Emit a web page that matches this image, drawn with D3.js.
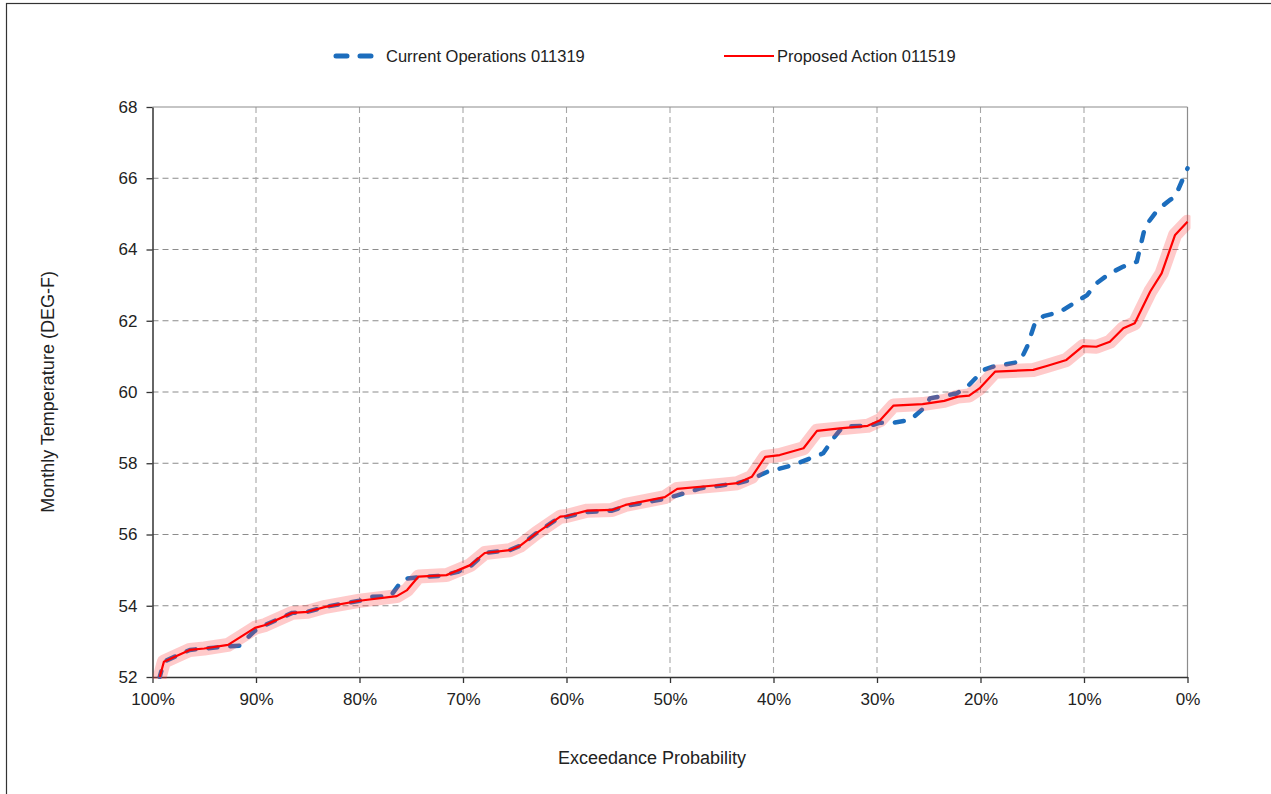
<!DOCTYPE html>
<html><head><meta charset="utf-8">
<script src="https://cdn.jsdelivr.net/npm/d3@7"></script>
<style>body{margin:0;background:#fff;} svg{display:block;font-family:"Liberation Sans",Arial,sans-serif;}</style>
</head><body><svg id="c" width="1271" height="794"></svg>
<script>
// Exceedance probability (%) and monthly temperature (DEG-F)
const seriesNames = ["Current Operations 011319", "Proposed Action 011519"];
const currentOps = [
 [99.3,52.0],[98.9,52.43],[96.4,52.76],[95,52.8],[93,52.85],[91.6,52.88],[90.1,53.3],[89.1,53.46],
 [86.5,53.8],[85,53.83],[83.3,53.97],[80,54.14],[78.8,54.25],[77,54.27],[75.8,54.75],[74.3,54.8],
 [72.2,54.84],[70.5,54.95],[69.3,55.1],[67.9,55.48],[65.5,55.56],[64.5,55.68],[62.9,56.04],[60.6,56.5],
 [60,56.5],[58,56.63],[55.6,56.67],[54.3,56.8],[50.5,57.0],[49.3,57.1],[47,57.3],[45.2,57.37],
 [43.5,57.44],[42.3,57.53],[40.6,57.76],[38.1,57.95],[35.2,58.28],[34.1,58.74],[33.3,59.03],[30.7,59.05],
 [29.7,59.14],[28.4,59.14],[26.8,59.21],[25.2,59.62],[24.9,59.82],[22.3,59.96],[21.3,60.14],[19.7,60.62],
 [18.8,60.71],[16.2,60.85],[15.5,61.27],[14.7,61.97],[13.9,62.13],[12.3,62.25],[11.0,62.49],[9.7,62.72],
 [8.8,63.05],[7.5,63.33],[6.2,63.52],[4.9,63.66],[4.1,64.64],[2.9,65.11],[1.7,65.39],[1.2,65.48],[0,66.28]
];
const proposedAction = [
 [99.3,52.0],[98.9,52.43],[96.4,52.76],[95,52.8],[92.7,52.9],[90.1,53.38],[89.1,53.46],[86.5,53.8],
 [85,53.83],[83.3,53.97],[80,54.14],[76.4,54.27],[75.4,54.44],[74.3,54.82],[71.6,54.86],[69.3,55.14],
 [67.9,55.48],[65.5,55.56],[64.5,55.68],[62.9,56.04],[60.6,56.5],[60,56.52],[58,56.67],[55.6,56.69],
 [54.3,56.83],[50.5,57.05],[49.3,57.28],[45.2,57.39],[43.5,57.44],[42.1,57.62],[40.8,58.18],[39.4,58.23],
 [37.1,58.42],[35.8,58.91],[33.6,58.98],[30.9,59.05],[29.7,59.21],[28.4,59.62],[25.6,59.66],[23.5,59.75],
 [22.2,59.87],[21.1,59.9],[20.1,60.1],[18.6,60.57],[14.9,60.62],[13.6,60.73],[11.7,60.9],[10.1,61.29],
 [8.8,61.27],[7.5,61.41],[6.2,61.79],[5.1,61.93],[3.6,62.82],[2.5,63.33],[1.2,64.41],[0,64.78]
];
const yTicks = [52,54,56,58,60,62,64,66,68];
const xTicks = [100,90,80,70,60,50,40,30,20,10,0];
const xTitle = "Exceedance Probability";
const yTitle = "Monthly Temperature (DEG-F)";

const svg = d3.select("#c");
const L = 152.5, R = 1187.5, T = 107, B = 677;
const x = d3.scaleLinear().domain([100,0]).range([L,R]);
const y = d3.scaleLinear().domain([52,68]).range([B,T]);

// outer frame
svg.append("rect").attr("x",6.5).attr("y",3.5).attr("width",1300).attr("height",900)
  .attr("fill","none").attr("stroke","#333").attr("stroke-width",1.2);

// grid
const g = svg.append("g");
g.selectAll(".hg").data(yTicks.filter(d=>d>52 && d<68)).join("line")
  .attr("x1",L).attr("x2",R).attr("y1",d=>y(d)).attr("y2",d=>y(d))
  .attr("stroke","#8c8c8c").attr("stroke-width",1.1).attr("stroke-dasharray","6,4");
g.selectAll(".vg").data(xTicks.filter(d=>d>0 && d<100)).join("line")
  .attr("y1",T).attr("y2",B).attr("x1",d=>x(d)).attr("x2",d=>x(d))
  .attr("stroke","#a6a6a6").attr("stroke-width",1.1).attr("stroke-dasharray","6,4");
// top and right borders
g.append("line").attr("x1",L).attr("x2",R).attr("y1",T).attr("y2",T).attr("stroke","#8c8c8c").attr("stroke-width",1.2);
g.append("line").attr("x1",R).attr("x2",R).attr("y1",T).attr("y2",B).attr("stroke","#8c8c8c").attr("stroke-width",1.2);

// axes
const yAxis = d3.axisLeft(y).tickValues(yTicks).tickSize(6).tickSizeOuter(0).tickPadding(9).tickFormat(d3.format("d"));
const xAxis = d3.axisBottom(x).tickValues(xTicks).tickSize(6).tickSizeOuter(0).tickPadding(10).tickFormat(d=>d+"%");
const ya = svg.append("g").attr("transform",`translate(${L},0)`).call(yAxis);
const xa = svg.append("g").attr("transform",`translate(0,${B})`).call(xAxis);
[ya,xa].forEach(a=>{
  a.select(".domain").attr("stroke","#333").attr("stroke-width",1.5);
  a.selectAll(".tick line").attr("stroke","#333").attr("stroke-width",1.3);
  a.selectAll("text").attr("fill","#222").attr("font-size",17).attr("font-family","'Liberation Sans',Arial,sans-serif");
});

// lines
const line = d3.line().x(d=>x(d[0])).y(d=>y(d[1]));
svg.append("clipPath").attr("id","pc").append("rect").attr("x",L).attr("y",T-20).attr("width",R-L+3).attr("height",B-T+22);
const lg = svg.append("g").attr("clip-path","url(#pc)");
lg.append("path").datum(currentOps).attr("d",line).attr("fill","none")
  .attr("stroke","#1c6dbd").attr("stroke-width",4.5).attr("stroke-dasharray","9,13").attr("stroke-dashoffset",3)
  .attr("stroke-linecap","round").attr("stroke-linejoin","round");
lg.append("path").datum(proposedAction).attr("d",line).attr("fill","none")
  .attr("stroke","rgba(255,60,60,0.27)").attr("stroke-width",14).attr("stroke-linejoin","round").attr("stroke-linecap","round");
lg.append("path").datum(proposedAction).attr("d",line).attr("fill","none")
  .attr("stroke","#ff0000").attr("stroke-width",2.2).attr("stroke-linejoin","round");

// titles
svg.append("text").attr("x",652).attr("y",764).attr("text-anchor","middle")
  .attr("font-size",18).attr("fill","#222").text(xTitle);
svg.append("text").attr("transform",`translate(54,${(T+B)/2}) rotate(-90)`).attr("text-anchor","middle")
  .attr("font-size",18).attr("fill","#222").text(yTitle);

// legend
const leg = svg.append("g");
leg.append("line").attr("x1",336).attr("x2",371).attr("y1",56).attr("y2",56)
  .attr("stroke","#1c6dbd").attr("stroke-width",5).attr("stroke-dasharray","11,13").attr("stroke-linecap","round");
leg.append("text").attr("x",386).attr("y",62).attr("font-size",16.5).attr("fill","#222").text(seriesNames[0]);
leg.append("line").attr("x1",724).attr("x2",774).attr("y1",56).attr("y2",56)
  .attr("stroke","#ff0000").attr("stroke-width",2.2);
leg.append("text").attr("x",777).attr("y",62).attr("font-size",16.5).attr("fill","#222").text(seriesNames[1]);
</script>
</body></html>
